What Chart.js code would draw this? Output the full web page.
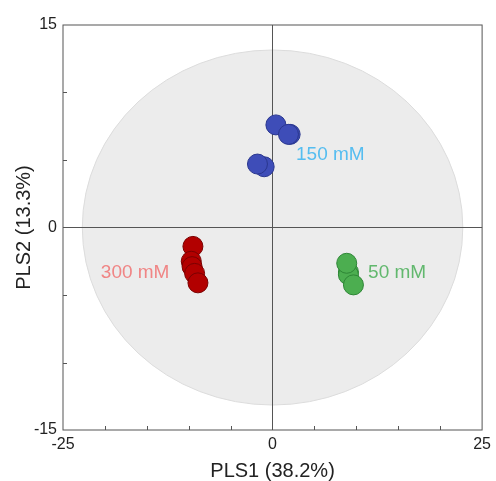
<!DOCTYPE html>
<html lang="en">
<head>
    <meta charset="UTF-8">
    <title>PLS scores</title>
    <script src="https://cdn.jsdelivr.net/npm/chart.js"></script>
    <style>
        html, body { margin: 0; padding: 0; background: #fff; }
        #wrap { width: 496px; height: 481px; }
    </style>
</head>
<body>
    <div id="wrap"><canvas id="grafico"></canvas></div>

    <script>
        // scores (PLS1, PLS2)
        const grupos = ["150 mM", "300 mM", "50 mM"];
        const x150 = [0.4, 2.1, 1.9, -1.0, -1.8];
        const y150 = [7.6, 6.9, 6.9, 4.5, 4.7];
        const x300 = [-9.5, -9.7, -9.6, -9.3, -8.9];
        const y300 = [-1.4, -2.5, -2.9, -3.4, -4.1];
        const x50 = [9.05, 9.05, 8.85, 9.65];
        const y50 = [-3.3, -3.5, -2.65, -4.25];

        // where the group names sit (data units)
        const rotuloX = [2.8, -12.3, 11.4];
        const rotuloY = [5.4, -3.35, -3.35];

        const xTickLabels = [-25, 0, 25];
        const yTickLabels = [-15, 0, 15];
        const xMenores = [-20, -15, -10, -5, 5, 10, 15, 20];
        const yMenores = [-10, -5, 5, 10];

        // confidence ellipse radii (data units), centred on origin
        const elipseRx = 22.7;
        const elipseRy = 13.15;

        function pontos(xs, ys) {
            return xs.map((x, i) => ({ x: x, y: ys[i] }));
        }

        const fonte = "'Liberation Sans', Arial, sans-serif";

        const pluginExtras = {
            id: 'extras',
            beforeDraw(chart) {
                const { ctx, scales: { x, y } } = chart;
                const cx = x.getPixelForValue(0);
                const cy = y.getPixelForValue(0);
                const rx = Math.abs(x.getPixelForValue(elipseRx) - cx);
                const ry = Math.abs(y.getPixelForValue(elipseRy) - cy);
                ctx.save();
                ctx.beginPath();
                ctx.ellipse(cx, cy, rx, ry, 0, 0, Math.PI * 2);
                ctx.fillStyle = '#ececec';
                ctx.fill();
                ctx.strokeStyle = '#dcdcdc';
                ctx.lineWidth = 1;
                ctx.stroke();
                ctx.restore();
            },
            afterDatasetsDraw(chart) {
                const { ctx, chartArea: a, scales: { x, y } } = chart;
                ctx.save();
                // caixa
                ctx.strokeStyle = '#555';
                ctx.lineWidth = 1;
                ctx.strokeRect(a.left, a.top, a.right - a.left, a.bottom - a.top);
                // ticks menores para dentro
                ctx.beginPath();
                xMenores.forEach(v => {
                    const px = Math.round(x.getPixelForValue(v)) + 0.5;
                    ctx.moveTo(px, a.bottom);
                    ctx.lineTo(px, a.bottom - 4);
                });
                yMenores.forEach(v => {
                    const py = Math.round(y.getPixelForValue(v)) + 0.5;
                    ctx.moveTo(a.left, py);
                    ctx.lineTo(a.left + 4, py);
                });
                ctx.stroke();
                // nomes dos grupos
                ctx.font = '19px ' + fonte;
                ctx.textBaseline = 'middle';
                const cores = ['#55bdf0', '#f08585', '#62b86e'];
                const alinhar = ['left', 'right', 'left'];
                grupos.forEach((g, i) => {
                    ctx.fillStyle = cores[i];
                    ctx.textAlign = alinhar[i];
                    ctx.fillText(g, x.getPixelForValue(rotuloX[i]), y.getPixelForValue(rotuloY[i]));
                });
                ctx.restore();
            }
        };

        const ctx = document.getElementById('grafico').getContext('2d');
        new Chart(ctx, {
            type: 'scatter',
            data: {
                datasets: [
                    {
                        label: grupos[0],
                        data: pontos(x150, y150),
                        backgroundColor: '#3e4db8',
                        borderColor: '#2a378f',
                        borderWidth: 1,
                        pointRadius: 10
                    },
                    {
                        label: grupos[1],
                        data: pontos(x300, y300),
                        backgroundColor: '#b20000',
                        borderColor: '#7a0000',
                        borderWidth: 1,
                        pointRadius: 10
                    },
                    {
                        label: grupos[2],
                        data: pontos(x50, y50),
                        backgroundColor: '#4cae50',
                        borderColor: '#2e8636',
                        borderWidth: 1,
                        pointRadius: 10
                    }
                ]
            },
            options: {
                responsive: true,
                maintainAspectRatio: false,
                animation: false,
                layout: { padding: { top: 25, right: 11, left: 0, bottom: 0 } },
                plugins: {
                    legend: { display: false },
                    tooltip: { enabled: false }
                },
                scales: {
                    x: {
                        type: 'linear',
                        min: -25,
                        max: 25,
                        afterFit: s => { s.height = 51; },
                        ticks: {
                            stepSize: 5,
                            autoSkip: false,
                            maxRotation: 0,
                            padding: 5,
                            color: '#222',
                            font: { family: fonte, size: 16 },
                            callback: v => xTickLabels.includes(v) ? String(v) : ''
                        },
                        grid: {
                            drawTicks: false,
                            color: c => c.tick && c.tick.value === 0 ? '#555' : 'rgba(0,0,0,0)'
                        },
                        border: { display: false },
                        title: {
                            display: true,
                            text: 'PLS1 (38.2%)',
                            color: '#222',
                            font: { family: fonte, size: 20, lineHeight: 1 },
                            padding: { top: 0, bottom: 0 }
                        }
                    },
                    y: {
                        type: 'linear',
                        min: -15,
                        max: 15,
                        afterFit: s => { s.width = 63; },
                        ticks: {
                            stepSize: 5,
                            autoSkip: false,
                            padding: 6,
                            color: '#222',
                            font: { family: fonte, size: 16 },
                            callback: v => yTickLabels.includes(v) ? String(v) : ''
                        },
                        grid: {
                            drawTicks: false,
                            color: c => c.tick && c.tick.value === 0 ? '#555' : 'rgba(0,0,0,0)'
                        },
                        border: { display: false },
                        title: {
                            display: true,
                            text: 'PLS2 (13.3%)',
                            color: '#222',
                            font: { family: fonte, size: 20, lineHeight: 1 },
                            padding: { top: 14, bottom: 0 }
                        }
                    }
                }
            },
            plugins: [pluginExtras]
        });
    </script>
</body>
</html>
